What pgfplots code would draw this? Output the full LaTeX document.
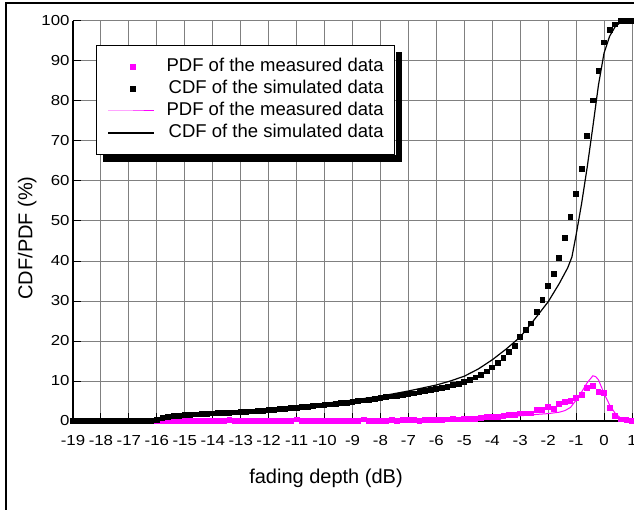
\documentclass[border=0pt]{standalone}
\usepackage{fontspec}
\setmainfont{Liberation Sans}
\newfontfamily\tickfont[FakeStretch=1.16]{Liberation Sans}
\usepackage{pgfplots}
\pgfplotsset{compat=1.18}
\usepackage{pgfplotstable}

\definecolor{mag}{RGB}{255,0,255}

% x, PDF measured (squares), CDF simulated (squares)
\pgfplotstableread{
x pm cs
-19.0 0 0
-18.8 0 0
-18.6 0 0
-18.4 0 0
-18.2 0 0
-18.0 0 0
-17.8 0 0
-17.6 0 0
-17.4 0 0
-17.2 0 0
-17.0 0 0
-16.8 0 0
-16.6 0 0
-16.4 0 0
-16.2 0 0
-16.0 0 0.2
-15.8 0 0.75
-15.6 0.1 1.0
-15.4 0.1 1.2
-15.2 0.1 1.35
-15.0 0.1 1.5
-14.8 0.1 1.6
-14.6 0.1 1.65
-14.4 0.1 1.75
-14.2 0 1.85
-14.0 0.1 1.9
-13.8 0.1 2.0
-13.6 0.1 2.05
-13.4 0.2 2.1
-13.2 0.1 2.15
-13.0 0.1 2.2
-12.8 0.1 2.3
-12.6 0.1 2.4
-12.4 0.1 2.5
-12.2 0.1 2.6
-12.0 0.1 2.75
-11.8 0.1 2.85
-11.6 0.1 2.95
-11.4 0.1 3.05
-11.2 0.1 3.2
-11.0 0.4 3.3
-10.8 0.1 3.45
-10.6 0.1 3.6
-10.4 0.1 3.75
-10.2 0.1 3.9
-10.0 0.1 4.05
-9.8 0.1 4.15
-9.6 0.1 4.3
-9.4 0.1 4.45
-9.2 0.1 4.6
-9.0 0.1 4.8
-8.8 0.1 4.95
-8.6 0.4 5.15
-8.4 0.1 5.35
-8.2 0.1 5.55
-8.0 0.1 5.75
-7.8 0.1 5.95
-7.6 0.2 6.15
-7.4 0.1 6.3
-7.2 0.2 6.5
-7.0 0.2 6.7
-6.8 0.2 6.9
-6.6 0.1 7.2
-6.4 0.2 7.5
-6.2 0.25 7.8
-6.0 0.25 8.1
-5.8 0.25 8.3
-5.6 0.4 8.6
-5.4 0.5 9.0
-5.2 0.4 9.3
-5.0 0.5 9.75
-4.8 0.5 10.25
-4.6 0.5 10.9
-4.4 0.7 11.5
-4.2 1.0 12.4
-4.0 1.0 13.4
-3.8 1.1 14.5
-3.6 1.25 15.85
-3.4 1.5 17.25
-3.2 1.5 18.8
-3.0 1.9 21.0
-2.8 1.9 22.75
-2.6 1.9 24.4
-2.4 2.8 27.3
-2.2 2.75 30.25
-2.0 3.5 33.75
-1.8 3.0 36.75
-1.6 4.3 40.8
-1.4 4.8 45.7
-1.2 5.0 50.9
-1.0 5.8 56.7
-0.8 6.5 63.0
-0.6 8.2 71.3
-0.4 8.8 80.1
-0.2 7.3 87.5
0.0 7.0 94.6
0.2 3.2 97.75
0.4 1.3 99.1
0.6 0.4 99.9
0.8 0.2 100
1.0 0.0 100
}\squares

\pgfplotstableread{
x y
-19 0
-7 0
-6 0.1
-5 0.25
-4.5 0.45
-4 0.7
-3.5 1.0
-3 1.3
-2.5 1.6
-2 1.85
-1.6 2.2
-1.4 2.6
-1.2 3.4
-1.0 5.2
-0.8 7.3
-0.6 9.6
-0.4 11.3
-0.3 11.1
-0.2 10.3
0.0 6.9
0.2 4.0
0.4 1.9
0.6 0.7
0.8 0.15
1.0 0
}\pdfline

\pgfplotstableread{
x y
-19 0
-16 0
-15.5 0.6
-15 1.1
-14 1.8
-13 2.4
-12 3.0
-11 3.65
-10 4.4
-9 5.2
-8 6.2
-7 7.5
-6 9.0
-5.5 10.0
-5 11.2
-4.5 13.0
-4 15.3
-3.5 18.0
-3 21.0
-2.5 25.3
-2 29.8
-1.6 34.4
-1.3 38.3
-1.15 41.0
-1.0 46.5
-0.8 54.5
-0.6 63.6
-0.4 73.6
-0.2 84.0
0.0 92.0
0.2 96.2
0.4 98.6
0.6 99.7
0.8 100
1.0 100
}\cdfline

\begin{document}
\begin{tikzpicture}
\begin{axis}[
  at={(73pt,88pt)}, anchor=south west,
  scale only axis, width=559pt, height=400pt,
  xmin=-19, xmax=1, ymin=0, ymax=100,
  clip=false,
  axis lines=left,
  axis line style={-, black, line width=1.2pt},
  xtick={-19,-18,...,1},
  xticklabels={-19,-18,-17,-16,-15,-14,-13,-12,-11,-10,-9,-8,-7,-6,-5,-4,-3,-2,-1,0,1},
  ytick={0,10,...,100},
  /pgf/number format/assume math mode=true,
  tick align=inside, major tick length=8pt,
  tick style={black, line width=1pt},
  grid=major, major grid style={gray, line width=1pt},
  ticklabel style={font=\tickfont\fontsize{14.5}{17}\selectfont},
  xticklabel style={yshift=-11pt},
  xlabel={fading depth (dB)},
  ylabel={CDF/PDF (\%)},
  label style={font=\fontsize{20}{24}\selectfont},
  xlabel style={at={(axis description cs:0.4526,-0.1425)}, anchor=center},
  ylabel style={at={(axis description cs:-0.082,0.4575)}, anchor=center},
  legend cell align=right,
  legend image code/.code={%
    \draw[mark repeat=2,mark phase=2,#1] plot coordinates {(0pt,0pt) (25pt,0pt) (46pt,0pt)};
    \path (58pt,0pt);},
  legend style={name=leg, at={(axis description cs:0.041,0.94)}, anchor=north west,
    draw=black, line width=1pt, fill=white,
    font=\fontsize{18.5}{22}\selectfont,
    inner xsep=11pt, inner ysep=12.5pt, row sep=4pt, column sep=0pt,
    cells={anchor=east},
    nodes={inner sep=0pt, text height=14pt, text depth=4pt}},
]
\addplot[only marks, mark=square*, mark size=2.4pt, color=mag, line width=0pt] table[x=x, y=pm] {\squares};
\addplot[only marks, mark=square*, mark size=2.4pt, color=black, line width=0pt] table[x=x, y=cs] {\squares};
\addplot[mag, line width=1pt, mark=none] table[x=x, y=y] {\pdfline};
\addplot[black, line width=1.2pt, mark=none] table[x=x, y=y] {\cdfline};
\legend{PDF of the measured data, CDF of the simulated data, PDF of the measured data, CDF of the simulated data}
\end{axis}
% legend shadow
\fill[black] ([shift={(0.5pt,-7pt)}]leg.north east) rectangle ([shift={(7pt,-7pt)}]leg.south east);
\fill[black] ([shift={(7pt,-0.5pt)}]leg.south west) rectangle ([shift={(7pt,-7pt)}]leg.south east);
\draw[line width=1.5pt] (6pt,-10pt) -- (6pt,506pt) -- (650pt,506pt);
\pgfresetboundingbox
\useasboundingbox (0pt,0pt) rectangle (634pt,509pt);
\end{tikzpicture}
\end{document}
